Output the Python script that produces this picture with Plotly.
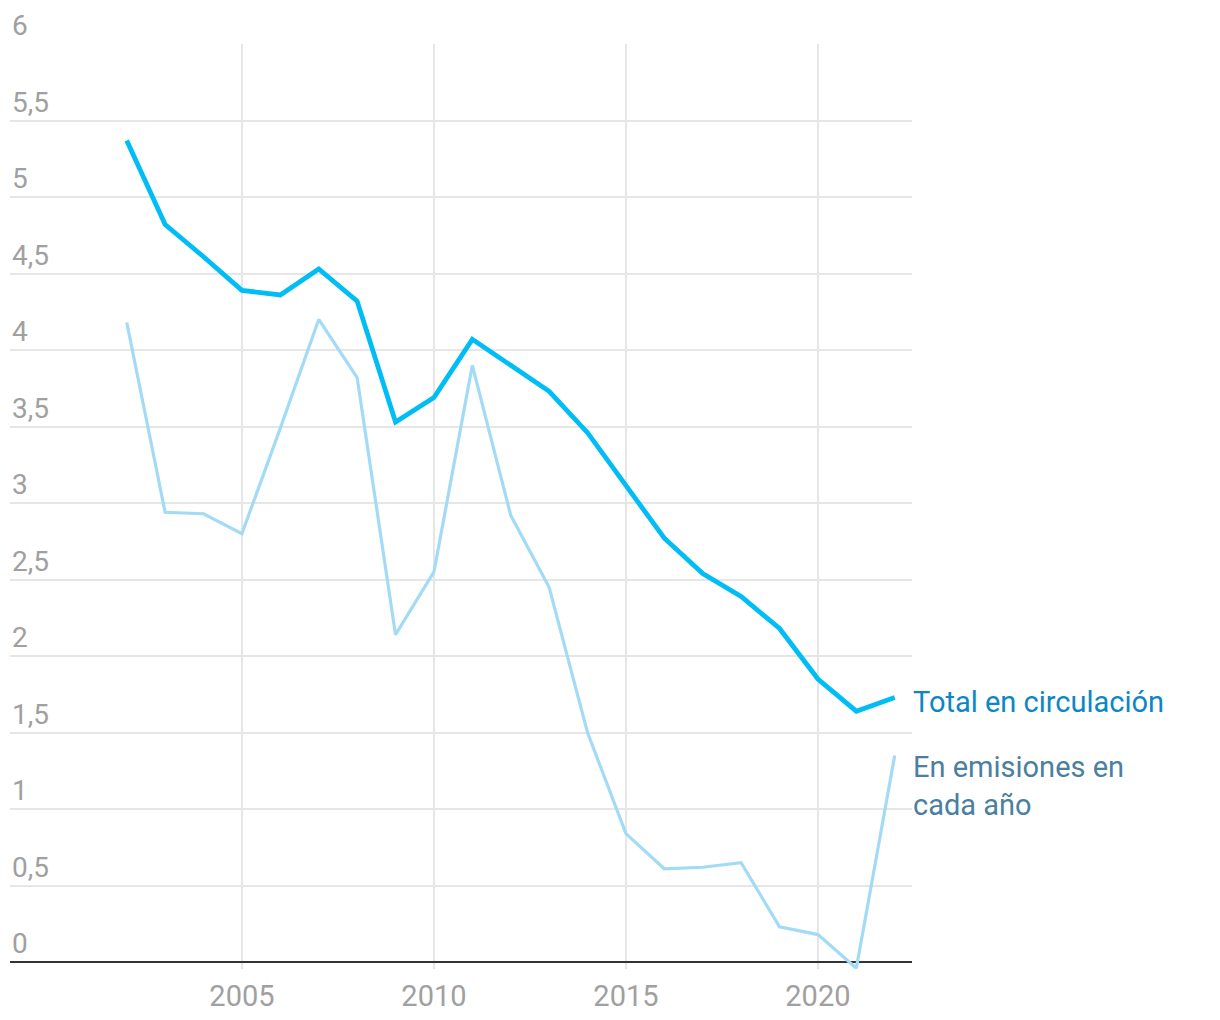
import plotly.graph_objects as go

years = list(range(2002, 2023))
total_circulacion = [5.37, 4.82, 4.61, 4.39, 4.36, 4.53, 4.32, 3.53, 3.69, 4.07, 3.90,
                     3.73, 3.46, 3.12, 2.77, 2.54, 2.39, 2.18, 1.85, 1.64, 1.73]
emisiones_anio = [4.18, 2.94, 2.93, 2.80, 3.49, 4.20, 3.82, 2.14, 2.55, 3.90, 2.92,
                  2.45, 1.50, 0.84, 0.61, 0.62, 0.65, 0.23, 0.18, -0.04, 1.35]
y_ticks = [0, 0.5, 1, 1.5, 2, 2.5, 3, 3.5, 4, 4.5, 5, 5.5, 6]
y_labels = ["0", "0,5", "1", "1,5", "2", "2,5", "3", "3,5", "4", "4,5", "5", "5,5", "6"]
x_ticks = [2005, 2010, 2015, 2020]

FONT = "Roboto"
GRID = "#e6e6e6"
TICK_COLOR = "#a0a0a0"

fig = go.Figure()
fig.add_trace(go.Scatter(
    x=years, y=emisiones_anio, mode="lines",
    line=dict(color="#a3dbf7", width=3.2),
    name="En emisiones en cada año", hoverinfo="x+y"
))
fig.add_trace(go.Scatter(
    x=years, y=total_circulacion, mode="lines",
    line=dict(color="#00bdf5", width=4.8),
    name="Total en circulación", hoverinfo="x+y"
))

# etiquetas del eje Y encima de cada línea de rejilla
for v, lab in zip(y_ticks, y_labels):
    fig.add_annotation(x=0, y=v, xref="paper", yref="y", xanchor="left", yanchor="bottom",
                       yshift=0, showarrow=False, text=lab,
                       font=dict(family=FONT, size=28, color=TICK_COLOR))

# etiquetas de las series a la derecha
fig.add_annotation(x=2022, y=1.70, xref="x", yref="y", xanchor="left", yanchor="middle",
                   xshift=16, showarrow=False, align="left",
                   text="Total en circulación",
                   font=dict(family=FONT, size=29, color="#0a87c4"))
fig.add_annotation(x=2022, y=1.40, xref="x", yref="y", xanchor="left", yanchor="top",
                   xshift=16, showarrow=False, align="left",
                   text="En emisiones en<br>cada año",
                   font=dict(family=FONT, size=29, color="#4a7f9f"))

fig.update_layout(
    width=1220, height=1020,
    margin=dict(l=2, r=316, t=36, b=59),
    plot_bgcolor="#ffffff", paper_bgcolor="#ffffff",
    showlegend=False,
    separators=",.",
    font=dict(family=FONT, size=29, color=TICK_COLOR),
    xaxis=dict(
        range=[1998.96, 2022.45], tickvals=x_ticks,
        showgrid=True, gridcolor=GRID, gridwidth=2,
        ticks="", zeroline=False, showline=False,
        ticklabelstandoff=7,
        tickfont=dict(family=FONT, size=29, color=TICK_COLOR),
    ),
    yaxis=dict(
        range=[-0.045, 6], tickvals=y_ticks,
        showgrid=True, gridcolor=GRID, gridwidth=2,
        zeroline=True, zerolinecolor="#333333", zerolinewidth=2.4,
        showticklabels=False, ticks="",
    ),
)

fig.write_html("out.html")
